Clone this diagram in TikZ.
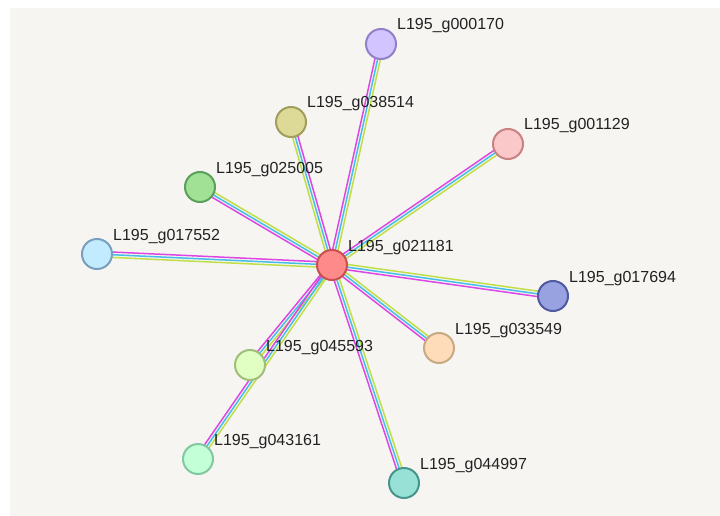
\documentclass[tikz,border=0pt]{standalone}
\usepackage{fontspec}
\setmainfont{Liberation Sans}
\usetikzlibrary{calc}
\pgfdeclarelayer{edges}
\pgfdeclarelayer{bg}
\pgfsetlayers{bg,edges,main}
\definecolor{panel}{RGB}{246,245,242}
\definecolor{txt}{RGB}{34,34,34}
\definecolor{emag}{RGB}{222,70,228}
\definecolor{ecya}{RGB}{70,190,232}
\definecolor{eyel}{RGB}{192,222,70}
\tikzset{
  prot/.style={circle, draw, line width=2pt, minimum size=30pt, inner sep=0pt},
  lab/.style={anchor=base west, inner sep=0pt, text=txt, font=\fontsize{16}{19}\selectfont},
  eline/.style={line width=1.5pt},
}
\newcommand\offs{2.7pt}
% #1,#2 nodes; #3 angle for magenta at #1 side; #4 the opposite angle
\newcommand\stredge[4]{%
  \draw[eline, emag] ($(#1.center)!\offs!#3:(#2.center)$) -- ($(#2.center)!\offs!#4:(#1.center)$);
  \draw[eline, ecya] (#1.center) -- (#2.center);
  \draw[eline, eyel] ($(#1.center)!\offs!#4:(#2.center)$) -- ($(#2.center)!\offs!#3:(#1.center)$);
}
\begin{document}
\begin{tikzpicture}[x=1pt,y=-1pt]
\useasboundingbox (0,0) rectangle (720,516);
\begin{pgfonlayer}{bg}
  \fill[white] (0,0) rectangle (720,516);
  \fill[panel] (10,8) rectangle (720,516);
\end{pgfonlayer}
% nodes
\node[prot, fill={rgb,255:red,255;green,138;blue,138}, draw={rgb,255:red,200;green,80;blue,80}] (c) at (332,265) {};
\node[prot, fill={rgb,255:red,210;green,196;blue,255}, draw={rgb,255:red,148;green,128;blue,200}] (n170) at (381,44) {};
\node[prot, fill={rgb,255:red,220;green,218;blue,150}, draw={rgb,255:red,160;green,158;blue,90}] (n514) at (291,122) {};
\node[prot, fill={rgb,255:red,250;green,200;blue,200}, draw={rgb,255:red,200;green,130;blue,130}] (n129) at (508,144) {};
\node[prot, fill={rgb,255:red,160;green,225;blue,150}, draw={rgb,255:red,90;green,160;blue,90}] (n005) at (200,187) {};
\node[prot, fill={rgb,255:red,195;green,235;blue,255}, draw={rgb,255:red,120;green,160;blue,190}] (n552) at (97,254) {};
\node[prot, fill={rgb,255:red,152;green,162;blue,225}, draw={rgb,255:red,80;green,90;blue,160}] (n694) at (553,296) {};
\node[prot, fill={rgb,255:red,255;green,220;blue,185}, draw={rgb,255:red,200;green,170;blue,130}] (n549) at (439,348) {};
\node[prot, fill={rgb,255:red,225;green,255;blue,195}, draw={rgb,255:red,160;green,190;blue,120}] (n593) at (250,365) {};
\node[prot, fill={rgb,255:red,195;green,255;blue,215}, draw={rgb,255:red,130;green,200;blue,160}] (n161) at (198,459) {};
\node[prot, fill={rgb,255:red,152;green,225;blue,215}, draw={rgb,255:red,70;green,150;blue,140}] (n997) at (404,483) {};
% labels
\node[lab] (lc) at ([shift={(16,-14)}]c.center) {L195\_g021181};
\node[lab] (l170) at ([shift={(16,-14)}]n170.center) {L195\_g000170};
\node[lab] (l514) at ([shift={(16,-14)}]n514.center) {L195\_g038514};
\node[lab] (l129) at ([shift={(16,-14)}]n129.center) {L195\_g001129};
\node[lab] (l005) at ([shift={(16,-14)}]n005.center) {L195\_g025005};
\node[lab] (l552) at ([shift={(16,-14)}]n552.center) {L195\_g017552};
\node[lab] (l694) at ([shift={(16,-14)}]n694.center) {L195\_g017694};
\node[lab] (l549) at ([shift={(16,-14)}]n549.center) {L195\_g033549};
\node[lab] (l593) at ([shift={(16,-14)}]n593.center) {L195\_g045593};
\node[lab] (l161) at ([shift={(16,-14)}]n161.center) {L195\_g043161};
\node[lab] (l997) at ([shift={(16,-14)}]n997.center) {L195\_g044997};
% edges
\begin{pgfonlayer}{edges}
  \stredge{c}{n552}{-90}{90}
  \stredge{c}{n694}{-90}{90}
  \stredge{c}{n170}{90}{-90}
  \stredge{c}{n514}{-90}{90}
  \stredge{c}{n129}{90}{-90}
  \stredge{c}{n005}{90}{-90}
  \stredge{c}{n593}{-90}{90}
  \stredge{c}{n161}{-90}{90}
  \stredge{c}{n997}{-90}{90}
  \stredge{c}{n549}{-90}{90}
\end{pgfonlayer}
\end{tikzpicture}
\end{document}
